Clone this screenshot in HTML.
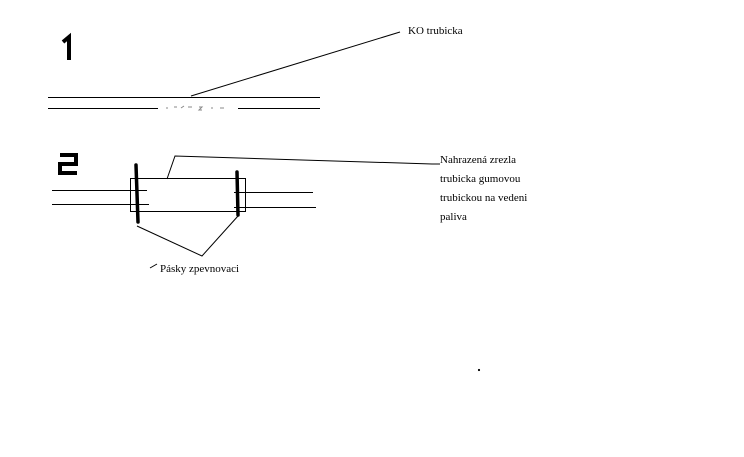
<!DOCTYPE html>
<html><head><meta charset="utf-8"><style>
body{margin:0;background:#fff;width:744px;height:457px;overflow:hidden}
svg{display:block}
text{font-family:"Liberation Serif",serif;font-size:11px;fill:#000}
</style></head><body>
<svg width="744" height="457" viewBox="0 0 744 457" xmlns="http://www.w3.org/2000/svg">
<g stroke="#000" fill="none">
<!-- 1 -->
<path d="M63 42 L69 37 L69 60" stroke-width="4"/>
<line x1="48" y1="97.5" x2="320" y2="97.5" stroke-width="1"/>
<line x1="48" y1="108.5" x2="158" y2="108.5" stroke-width="1"/>
<line x1="238" y1="108.5" x2="320" y2="108.5" stroke-width="1"/>
<path d="M166 108h2 M174 107h3 M181 108l3 -2 M188 107h4 M199 107h3l-3 3h3 M211 108h2 M220 108h4" stroke-width="1" stroke="#888"/>
<line x1="191" y1="96" x2="400" y2="32" stroke-width="1"/>
<!-- 2 -->
<path d="M60 155 H76 V164 H60 V173 H77" stroke-width="4"/>
<rect x="130.5" y="178.5" width="115" height="33" stroke-width="1"/>
<line x1="52" y1="190.5" x2="147" y2="190.5"/>
<line x1="52" y1="204.5" x2="149" y2="204.5"/>
<line x1="234" y1="192.5" x2="313" y2="192.5"/>
<line x1="234" y1="207.5" x2="316" y2="207.5"/>
<line x1="136" y1="165" x2="138" y2="222" stroke-width="3.5" stroke-linecap="round"/>
<line x1="237" y1="172" x2="238" y2="215" stroke-width="3.5" stroke-linecap="round"/>
<polyline points="167,179 175,156 432,164 440,164"/>
<polyline points="137,226 202,256 238,216"/>
<line x1="150" y1="268" x2="157" y2="264"/>
<circle cx="479" cy="370" r="0.6" fill="#000"/>
</g>
<text x="408" y="34">KO trubicka</text>
<text x="440" y="163">Nahrazená zrezla</text>
<text x="440" y="182">trubicka gumovou</text>
<text x="440" y="201">trubickou na vedeni</text>
<text x="440" y="220">paliva</text>
<text x="160" y="272">Pásky zpevnovaci</text>
</svg>
</body></html>
